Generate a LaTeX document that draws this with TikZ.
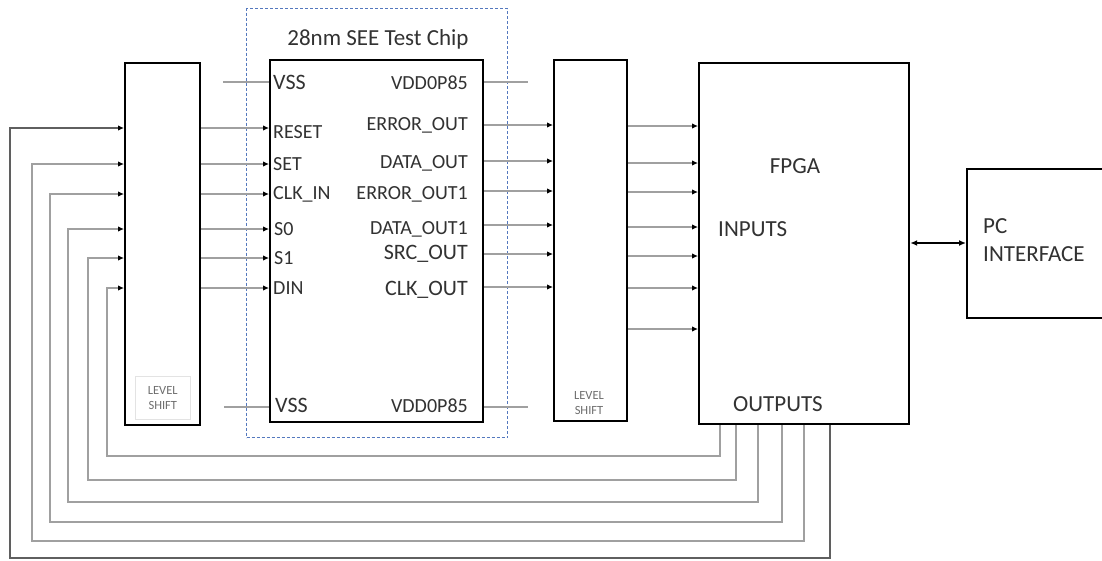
\documentclass[tikz,border=0pt]{standalone}
\usepackage{fontspec}
\setmainfont{Carlito}
\usetikzlibrary{arrows.meta}
\definecolor{txt}{RGB}{50,50,50}
\definecolor{smalltxt}{RGB}{110,110,110}
\definecolor{wirec}{RGB}{160,160,160}
\definecolor{dkwire}{RGB}{95,95,95}
\definecolor{chipblue}{RGB}{84,120,190}
\begin{document}
\begin{tikzpicture}[x=1pt,y=-1pt,
  blk/.style={draw=black, line width=2.2pt, fill=white, inner sep=0pt, anchor=north west},
  wire/.style={draw=wirec, line width=1.1pt},
  pin/.style={wire, -{Latex[black,length=6pt,width=5.5pt]}},
  lab/.style={inner sep=0pt, text=txt, font=\fontsize{20}{24}\selectfont},
  labL/.style={lab, anchor=base west},
  labR/.style={lab, anchor=base east},
  big/.style={inner sep=0pt, text=txt, font=\fontsize{23}{28}\selectfont},
  small/.style={inner sep=0pt, text=smalltxt, font=\fontsize{12.5}{15.5}\selectfont, align=center}]
\useasboundingbox (0,0) rectangle (1102,560);

% dashed chip outline
\node[draw=chipblue, dash pattern=on 3pt off 2pt, line width=1.2pt, minimum width=261pt, minimum height=429pt, anchor=north west, inner sep=0pt] (see) at (246,8) {};
\node[big, anchor=base] (title) at (378,45) {28nm SEE Test Chip};

% blocks
\node[blk, minimum width=75pt, minimum height=362pt] (lsL) at (124,62) {};
\node[draw=gray!22, line width=0.6pt, minimum width=55pt, minimum height=43pt, anchor=north west, inner sep=0pt] (lsLbox) at (135,376) {};
\node[small] (lsLlab) at (lsLbox.center) {LEVEL\\SHIFT};
\node[blk, minimum width=213pt, minimum height=362pt] (chip) at (269,59) {};
\node[blk, minimum width=73pt, minimum height=361pt] (lsR) at (553,59) {};
\node[small] (lsRlab) at (589,403) {LEVEL\\SHIFT};
\node[blk, minimum width=210pt, minimum height=361pt] (fpga) at (698,62) {};
\begin{scope}
\clip (0,0) rectangle (1102,560);
\node[blk, line width=2pt, minimum width=160pt, minimum height=149pt] (pc) at (966,168) {};
\end{scope}

% texts in FPGA and PC
\node[big, anchor=base] (fpgat) at (795,173) {FPGA};
\node[big, anchor=base west] (inp) at (718,236) {INPUTS};
\node[big, anchor=base west] (outp) at (733,411) {OUTPUTS};
\node[big, anchor=west, align=left] (pct) at (983,240) {PC\\INTERFACE};

% chip pin labels
\node[lab, anchor=base west, font=\fontsize{22}{26}\selectfont] (vss1) at (273,89) {VSS};
\node[labL] (reset) at (273,138) {RESET};
\node[labL] (set) at (273,170) {SET};
\node[labL] (clkin) at (273,199) {CLK\_IN};
\node[labL] (s0) at (274,235) {S0};
\node[labL] (s1) at (274,264) {S1};
\node[labL] (din) at (273,294) {DIN};
\node[lab, anchor=base west, font=\fontsize{22}{26}\selectfont] (vss2) at (275,412) {VSS};

\node[labR] (vdd1) at (468,89) {VDD0P85};
\node[labR] (errout) at (468,130) {ERROR\_OUT};
\node[labR] (dataout) at (468,168) {DATA\_OUT};
\node[labR] (errout1) at (468,199) {ERROR\_OUT1};
\node[labR] (dataout1) at (468,234) {DATA\_OUT1};
\node[labR, font=\fontsize{22}{26}\selectfont] (srcout) at (468,259) {SRC\_OUT};
\node[labR, font=\fontsize{22}{26}\selectfont] (clkout) at (468,295) {CLK\_OUT};
\node[labR] (vdd2) at (468,412) {VDD0P85};

% power stubs
\coordinate (vssA) at (223,82);
\coordinate (vddA) at (528,82);
\coordinate (vssB) at (224,407);
\coordinate (vddB) at (528,407);
\draw[wire] (vssA) -- (chip.west |- vssA);
\draw[wire] (chip.east |- vddA) -- (vddA);
\draw[wire] (vssB) -- (chip.west |- vssB);
\draw[wire] (chip.east |- vddB) -- (vddB);

% signal wires
\foreach \y in {128,164,194,229,258,288}
  \draw[pin] (lsL.east |- 0,\y) -- (chip.west |- 0,\y);
\foreach \y in {125,161,191,225,254,287}
  \draw[pin] (chip.east |- 0,\y) -- (lsR.west |- 0,\y);
\foreach \y in {126,163,192,227,256,288,329}
  \draw[pin] (lsR.east |- 0,\y) -- (fpga.west |- 0,\y);

% feedback from FPGA outputs
\draw[pin, draw=dkwire] (fpga.south -| 830,0) -- (830,558) -| (10,128) -- (lsL.west |- 0,128);
\foreach \xr/\yb/\xl/\yp in {804/541/32/164, 782/522/50/194, 758/502/68/229, 736/480/88/258, 720/456/107/288}
  \draw[pin] (fpga.south -| \xr,0) -- (\xr,\yb) -| (\xl,\yp) -- (lsL.west |- 0,\yp);

% PC link
\draw[line width=2pt, {Latex[length=7pt,width=6pt]}-{Latex[length=7pt,width=6pt]}] (fpga.east |- 0,243) -- (pc.west |- 0,243);
\end{tikzpicture}
\end{document}
